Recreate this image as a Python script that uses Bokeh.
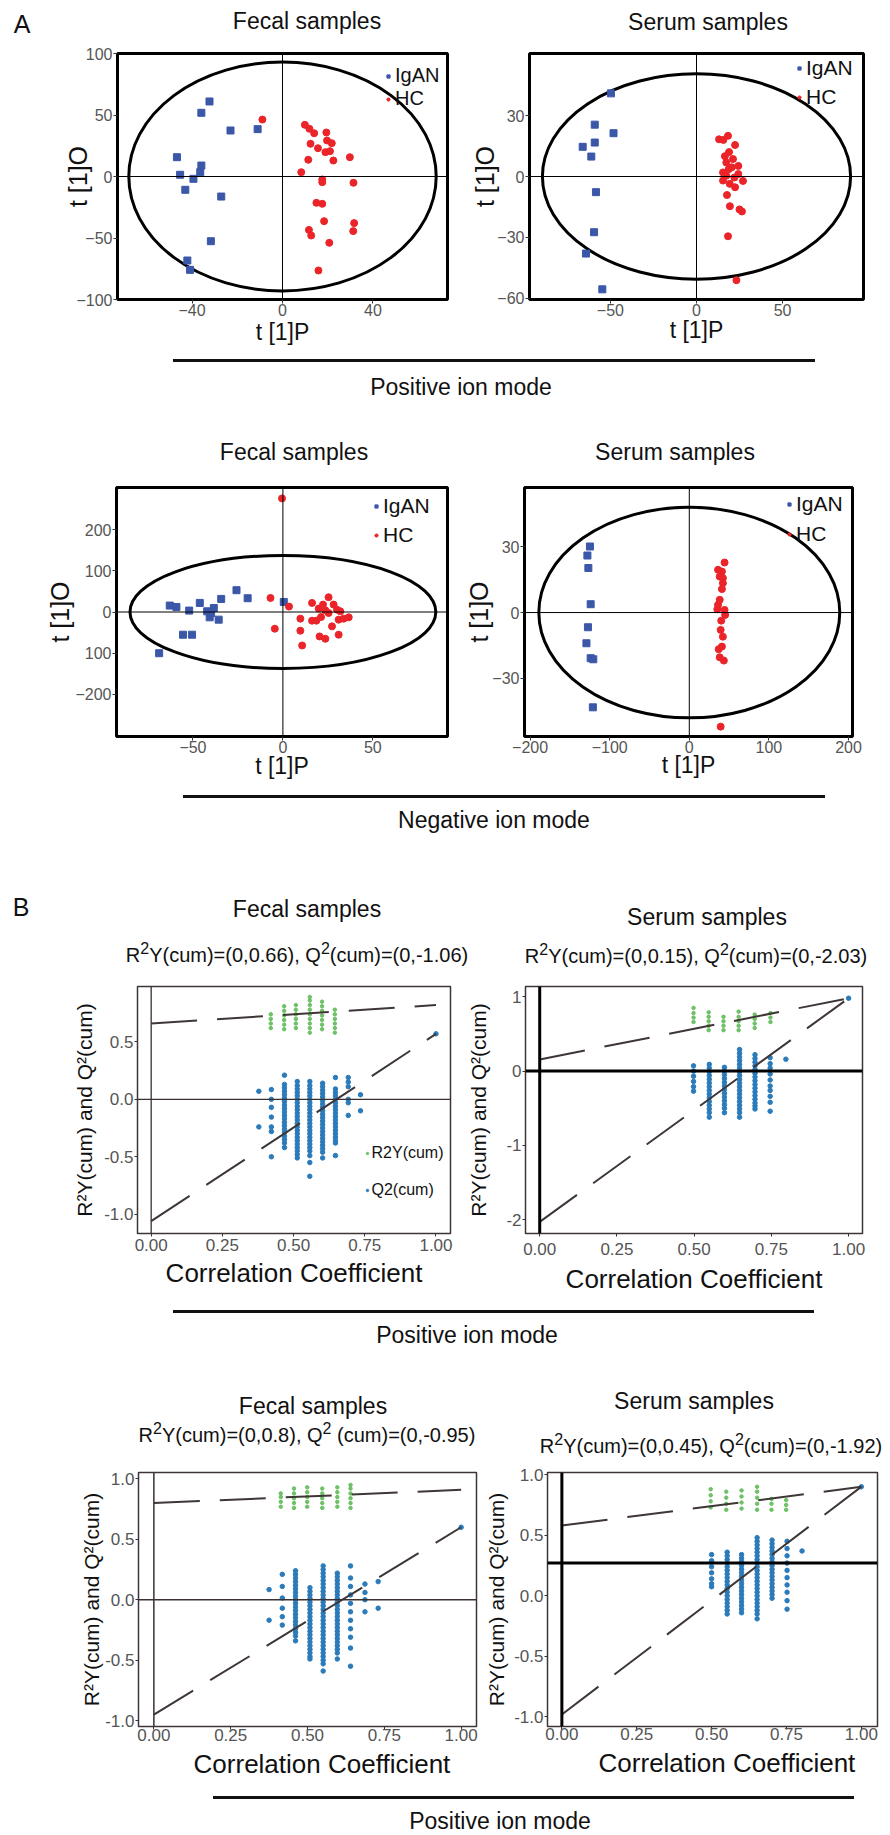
from bokeh.plotting import figure
from bokeh.models import Span, Legend, LegendItem, Div, FixedTicker, NumeralTickFormatter
from bokeh.layouts import column, row
from bokeh.embed import file_html
from bokeh.resources import INLINE

FONT = "Liberation Sans"
BLUE_SQ = "#3b57a8"
RED_PT = "#ea2429"
GREEN = "#62bb5a"
BLUE_PT = "#2b7bba"
LINE_C = "#3f3636"
TICK_TXT = "#555555"
PAGE_W = 888

# ---------------- A: OPLS-DA score plots ----------------
a_titles = ["Fecal samples", "Serum samples", "Fecal samples", "Serum samples"]
group_labels = ["IgAN", "HC"]
panel_letters = ["A", "B"]

a1_igan_x = [-32.3, -35.9, -23.0, -11.0, -46.7, -35.9, -36.4, -45.3, -39.4, -43.0, -27.1, -31.7, -42.1, -40.9]
a1_igan_y = [61.0, 51.8, 37.4, 38.5, 15.7, 8.9, 3.5, 1.4, -1.9, -10.8, -16.3, -52.6, -68.3, -75.9]
a1_hc_x = [-8.9, 9.9, 11.9, 14.0, 19.4, 19.7, 21.8, 12.4, 15.7, 19.0, 21.0, 11.4, 22.5, 29.8, 8.3,
           17.6, 17.6, 31.4, 15.0, 17.6, 18.4, 31.7, 31.3, 11.7, 12.7, 20.7, 15.9]
a1_hc_y = [46.3, 42.0, 38.8, 35.2, 35.8, 29.3, 27.1, 26.6, 23.0, 19.8, 20.6, 13.6, 13.0, 15.7, 3.5,
           -2.4, -4.6, -5.1, -21.4, -22.2, -36.3, -37.9, -44.4, -43.4, -48.0, -53.9, -76.4]

a2_igan_x = [-49.7, -59.1, -48.2, -59.1, -66.1, -61.1, -58.4, -59.5, -64.2, -54.7]
a2_igan_y = [40.9, 25.5, 21.3, 16.7, 14.6, 9.8, -7.7, -27.4, -37.9, -55.5]
a2_hc_x = [13.1, 18.3, 15.6, 22.4, 18.9, 21.2, 17.3, 24.3, 18.7, 15.4, 17.3, 24.3, 27.0, 15.4, 19.3,
           22.4, 17.7, 19.4, 26.4, 25.0, 18.3, 23.2, 20.5, 22.0, 16.5]
a2_hc_y = [18.3, 20.0, 18.0, 15.5, 12.0, 8.6, 6.9, 5.2, 3.6, 2.0, 0.4, 1.2, -2.2, -2.0, -3.6,
           -5.3, -9.1, -14.6, -17.2, -16.2, -29.4, -51.0, 4.5, -0.5, 10.0]

a3_igan_x = [-62.9, -59.2, -52.1, -46.2, -42.1, -40.7, -38.4, -35.7, -34.3, -25.8, -19.6, -55.5, -50.5, -68.8, 0.5, -39.9]
a3_igan_y = [15.6, 12.2, 3.4, 22.0, 1.7, -12.9, 9.8, -18.6, 31.7, 52.9, 33.4, -55.1, -55.1, -100.0, 24.4, -2.4]
a3_hc_x = [-0.5, -6.9, 3.4, -4.5, 9.7, 9.7, 10.7, 16.2, 16.2, 18.6, 19.9, 22.3, 23.6, 21.2, 25.4,
           28.2, 30.1, 31.9, 31.0, 33.8, 36.6, 27.3, 31.0, 20.4, 23.6, 25.4]
a3_hc_y = [275.6, 34.1, 13.2, -40.5, -16.1, -45.4, -81.2, 22.0, -21.0, -21.0, 8.3, 18.0, 4.1, -12.2, 35.8,
           18.0, 5.7, 1.7, -18.6, -16.1, -12.9, -34.8, -55.1, -59.3, -65.0, -2.4]

a4_igan_x = [-124.8, -128.0, -126.8, -123.9, -127.3, -129.2, -123.9, -120.6, -121.1]
a4_igan_y = [30.1, 26.0, 20.3, 3.8, -6.7, -14.0, -20.8, -21.3, -43.2]
a4_hc_x = [44.3, 41.0, 38.2, 42.2, 41.0, 38.2, 35.2, 44.3, 45.0, 40.1, 39.4, 42.2, 41.0, 36.9, 38.2,
           43.4, 39.4, 36.1, 42.2, 36.1]
a4_hc_y = [22.8, 18.7, 16.4, 15.7, 10.7, 5.8, 1.5, 1.2, -1.1, -3.7, -7.9, -11.0, -15.5, -16.7, -20.4,
           -21.9, -52.0, 3.5, 13.4, 19.5]

# Hotelling ellipse semi-axes (x, y) per panel
ell_a = [68, 89.5, 85, 189]
ell_b = [93, 50.5, 137, 48]

a1_xticks = [-40, 0, 40]
a1_yticks = [-100, -50, 0, 50, 100]
a2_xticks = [-50, 0, 50]
a2_yticks = [-60, -30, 0, 30]
a3_xticks = [-50, 0, 50]
a3_yticks = [-200, -100, 0, 100, 200]
a4_xticks = [-200, -100, 0, 100, 200]
a4_yticks = [-30, 0, 30]

# ---------------- B: permutation tests ----------------
b_titles = ["Fecal samples", "Serum samples", "Fecal samples", "Serum samples"]
b_r2y = ["0,0.66", "0,0.15", "0,0.8", "0,0.45"]
b_q2 = ["0,-1.06", "0,-2.03", "0,-0.95", "0,-1.92"]
series_labels = ["R2Y(cum)", "Q2(cum)"]
mode_labels = ["Positive ion mode", "Negative ion mode", "Positive ion mode", "Positive ion mode"]

b_xticks = [0, 0.25, 0.5, 0.75, 1.0]
b1_yticks = [-1.0, -0.5, 0.0, 0.5]
b2_yticks = [-2, -1, 0, 1]
b3_yticks = [-1.0, -0.5, 0.0, 0.5, 1.0]
b4_yticks = [-1.0, -0.5, 0.0, 0.5, 1.0]

# regression lines: intercept at x=0, observed value at x=1
b1_r2_line = [0.66, 0.82]
b1_q2_line = [-1.06, 0.57]
b2_r2_line = [0.157, 0.98]
b2_q2_line = [-2.03, 0.98]
b3_r2_line = [0.80, 0.91]
b3_q2_line = [-0.95, 0.60]
b4_r2_line = [0.58, 0.90]
b4_q2_line = [-0.98, 0.90]
b4_hline = 0.27

b1_r2_cols = [0.42, 0.467, 0.508, 0.557, 0.60, 0.645]
b1_r2_vals = [[0.62, 0.66, 0.70, 0.74],
              [0.61, 0.65, 0.69, 0.73, 0.77, 0.81],
              [0.62, 0.66, 0.70, 0.74, 0.78, 0.82],
              [0.58, 0.62, 0.66, 0.70, 0.74, 0.78, 0.82, 0.86, 0.89],
              [0.61, 0.65, 0.69, 0.73, 0.77, 0.81, 0.85],
              [0.58, 0.62, 0.66, 0.70, 0.74, 0.78]]
b1_q2_cols = [0.378, 0.422, 0.468, 0.513, 0.557, 0.602, 0.647, 0.692, 0.735, 1.0]
b1_q2_vals = [[0.07, -0.24],
              [0.085, 0.0, -0.07, -0.155, -0.24, -0.28, -0.50],
              [0.21, 0.13, 0.10, 0.07, 0.04, 0.01, -0.02, -0.05, -0.08, -0.11, -0.14, -0.17, -0.20, -0.23,
               -0.26, -0.29, -0.32, -0.35, -0.38, -0.42],
              [0.155, 0.12, 0.09, 0.06, 0.03, 0.0, -0.03, -0.06, -0.09, -0.12, -0.15, -0.18, -0.21, -0.24,
               -0.27, -0.30, -0.33, -0.36, -0.39, -0.42, -0.45, -0.48, -0.51],
              [0.155, 0.12, 0.09, 0.06, 0.03, 0.0, -0.03, -0.06, -0.09, -0.12, -0.15, -0.18, -0.21, -0.24,
               -0.27, -0.30, -0.33, -0.36, -0.39, -0.42, -0.45, -0.49, -0.55, -0.67],
              [0.14, 0.11, 0.08, 0.05, 0.02, -0.01, -0.04, -0.07, -0.10, -0.13, -0.16, -0.19, -0.22, -0.25,
               -0.28, -0.31, -0.34, -0.37, -0.40, -0.43, -0.46, -0.51],
              [0.19, 0.09, 0.06, 0.03, 0.0, -0.03, -0.06, -0.09, -0.12, -0.15, -0.18, -0.21, -0.24, -0.27,
               -0.30, -0.33, -0.36, -0.38, -0.49],
              [0.19, 0.15, 0.11, 0.0, -0.03, -0.14],
              [0.04, -0.10],
              [0.57]]

b2_r2_cols = [0.498, 0.547, 0.595, 0.644, 0.696, 0.747]
b2_r2_vals = [[0.66, 0.72, 0.78, 0.85],
              [0.55, 0.61, 0.67, 0.73, 0.79],
              [0.55, 0.61, 0.67, 0.73],
              [0.55, 0.61, 0.67, 0.73, 0.80],
              [0.58, 0.64, 0.70, 0.76],
              [0.66, 0.72, 0.78]]
b2_q2_cols = [0.498, 0.549, 0.598, 0.647, 0.697, 0.746, 0.797, 1.0]
b2_q2_vals = [[0.07, 0.0, -0.07, -0.14, -0.21, -0.27],
              [0.09, 0.04, -0.01, -0.06, -0.11, -0.16, -0.21, -0.26, -0.31, -0.36, -0.41, -0.46, -0.51, -0.56, -0.62],
              [0.05, 0.0, -0.05, -0.10, -0.15, -0.20, -0.25, -0.30, -0.35, -0.40, -0.45, -0.50, -0.56],
              [0.29, 0.24, 0.19, 0.14, 0.09, 0.04, -0.01, -0.06, -0.11, -0.16, -0.21, -0.26, -0.31, -0.36,
               -0.41, -0.46, -0.51, -0.56, -0.62],
              [0.22, 0.17, 0.12, 0.07, 0.02, -0.03, -0.08, -0.13, -0.18, -0.23, -0.28, -0.33, -0.38, -0.43,
               -0.47, -0.51],
              [0.18, 0.10, 0.04, -0.04, -0.12, -0.20, -0.26, -0.34, -0.42, -0.54],
              [0.16],
              [0.98]]

b3_r2_cols = [0.413, 0.456, 0.499, 0.548, 0.597, 0.64]
b3_r2_vals = [[0.77, 0.81, 0.85, 0.88],
              [0.76, 0.80, 0.84, 0.88, 0.92],
              [0.77, 0.81, 0.85, 0.89, 0.93],
              [0.76, 0.80, 0.84, 0.88, 0.92],
              [0.77, 0.81, 0.85, 0.89, 0.93],
              [0.76, 0.80, 0.84, 0.88, 0.92, 0.95]]
b3_q2_cols = [0.375, 0.418, 0.461, 0.508, 0.551, 0.597, 0.64, 0.687, 0.73, 1.0]
b3_q2_vals = [[0.084, -0.169],
              [0.21, 0.11, 0.014, -0.07, -0.14, -0.21],
              [0.24, 0.21, 0.18, 0.15, 0.12, 0.09, 0.06, 0.03, 0.0, -0.03, -0.06, -0.09, -0.12, -0.15,
               -0.18, -0.21, -0.24, -0.27, -0.30, -0.34],
              [0.10, 0.07, 0.04, 0.01, -0.02, -0.05, -0.08, -0.11, -0.14, -0.17, -0.20, -0.23, -0.26,
               -0.29, -0.32, -0.35, -0.38, -0.41, -0.44, -0.47, -0.49],
              [0.28, 0.25, 0.22, 0.19, 0.16, 0.13, 0.10, 0.07, 0.04, 0.01, -0.02, -0.05, -0.08, -0.11,
               -0.14, -0.17, -0.20, -0.23, -0.26, -0.29, -0.32, -0.35, -0.38, -0.41, -0.44, -0.47,
               -0.50, -0.53, -0.59],
              [0.22, 0.19, 0.16, 0.13, 0.10, 0.07, 0.04, 0.01, -0.02, -0.05, -0.08, -0.11, -0.14, -0.17,
               -0.20, -0.23, -0.26, -0.29, -0.32, -0.35, -0.38, -0.41, -0.44, -0.49],
              [0.28, 0.18, 0.11, 0.04, -0.03, -0.10, -0.17, -0.24, -0.31, -0.40, -0.55],
              [0.13, 0.06, 0.0, -0.10],
              [0.15, -0.07],
              [0.60]]

b4_r2_cols = [0.497, 0.549, 0.60, 0.652, 0.70, 0.749]
b4_r2_vals = [[0.73, 0.78, 0.83, 0.88],
              [0.71, 0.76, 0.81, 0.86],
              [0.72, 0.77, 0.82, 0.87],
              [0.71, 0.76, 0.81, 0.86, 0.90],
              [0.71, 0.76, 0.80],
              [0.71, 0.75, 0.79]]
b4_q2_cols = [0.5, 0.552, 0.6, 0.652, 0.702, 0.752, 0.802, 1.0]
b4_q2_vals = [[0.34, 0.29, 0.24, 0.19, 0.14, 0.10, 0.075],
              [0.36, 0.33, 0.30, 0.27, 0.24, 0.21, 0.18, 0.15, 0.12, 0.09, 0.06, 0.03, 0.0, -0.03, -0.06,
               -0.09, -0.12, -0.15],
              [0.34, 0.31, 0.28, 0.25, 0.22, 0.19, 0.16, 0.13, 0.10, 0.07, 0.04, 0.01, -0.02, -0.05,
               -0.08, -0.11, -0.14],
              [0.48, 0.45, 0.42, 0.39, 0.36, 0.33, 0.30, 0.27, 0.24, 0.21, 0.18, 0.15, 0.12, 0.09, 0.06,
               0.03, 0.0, -0.03, -0.06, -0.09, -0.12, -0.15, -0.19],
              [0.46, 0.43, 0.40, 0.37, 0.34, 0.31, 0.28, 0.25, 0.22, 0.19, 0.16, 0.13, 0.10, 0.07, 0.04,
               0.01, -0.02],
              [0.45, 0.39, 0.33, 0.27, 0.21, 0.15, 0.09, 0.03, -0.04, -0.11],
              [0.37],
              [0.90]]


def flat(cols, vals):
    xs, ys = [], []
    for c, vs in zip(cols, vals):
        for v in vs:
            xs.append(c)
            ys.append(v)
    return xs, ys


def sup_text(r2, q2, space=""):
    s = '<span style="font-size:0.8em;position:relative;top:-0.45em;">2</span>'
    return "R%sY(cum)=(%s), Q%s%s(cum)=(%s)" % (s, r2, s, space, q2)


# ---------------- helpers (geometry in reference-pixel coordinates) ----------------
def make_fig(box, frame, xr, yr):
    x0, x1, y0, y1 = box
    fl, fr, ft, fb = frame
    p = figure(width=x1 - x0, height=y1 - y0, x_range=xr, y_range=yr, title=None,
               output_backend="svg", toolbar_location=None,
               min_border_left=fl - x0, min_border_right=x1 - fr,
               min_border_top=ft - y0, min_border_bottom=y1 - fb)
    p.xgrid.visible = False
    p.ygrid.visible = False
    p.background_fill_color = "white"
    p.border_fill_color = "white"
    return p


def style_axes(p, xticks, yticks, xlabel, ylabel, tick_px, xlab_px, ylab_px,
               xls, yls, tick_out=4, x_std=3, y_std=1):
    for ax in (p.xaxis[0], p.yaxis[0]):
        ax.axis_line_color = None
        ax.major_tick_in = 0
        ax.major_tick_out = tick_out
        ax.major_tick_line_color = "#333333"
        ax.minor_tick_line_color = None
        ax.major_label_text_font = FONT
        ax.major_label_text_font_size = f"{tick_px}px"
        ax.major_label_text_color = TICK_TXT
        ax.axis_label_text_font = FONT
        ax.axis_label_text_font_style = "normal"
        ax.axis_label_text_color = "#111111"
    p.xaxis[0].ticker = FixedTicker(ticks=xticks)
    p.yaxis[0].ticker = FixedTicker(ticks=yticks)
    p.xaxis[0].axis_label = xlabel
    p.yaxis[0].axis_label = ylabel
    p.xaxis[0].axis_label_text_font_size = f"{xlab_px}px"
    p.yaxis[0].axis_label_text_font_size = f"{ylab_px}px"
    p.xaxis[0].axis_label_standoff = xls
    p.yaxis[0].axis_label_standoff = yls
    p.xaxis[0].major_label_standoff = x_std
    p.yaxis[0].major_label_standoff = y_std


def legend_row(p, frame, label, renderer, glyph_left, yc, font_px, glyph_w, standoff=3):
    fl, fr, ft, fb = frame
    h = font_px * 1.2
    leg = Legend(items=[LegendItem(label=label, renderers=[renderer])],
                 location=(glyph_left - fl, fb - (yc + h / 2)))
    leg.glyph_width = glyph_w
    leg.glyph_height = glyph_w
    leg.label_height = 1
    leg.label_standoff = standoff
    leg.padding = 0
    leg.margin = 0
    leg.spacing = 0
    leg.background_fill_alpha = 0
    leg.border_line_alpha = 0
    leg.label_text_font = FONT
    leg.label_text_font_size = f"{font_px}px"
    leg.label_text_color = "#111111"
    p.add_layout(leg)


def score_panel(box, frame, xr, yr, igan_x, igan_y, hc_x, hc_y, ea, eb, xticks, yticks,
                yls, xls, leg, yoverrides=None):
    p = make_fig(box, frame, xr, yr)
    p.outline_line_color = "black"
    p.outline_line_width = 3
    style_axes(p, xticks, yticks, "t [1]P", "t [1]O", 16, 23, 25, xls, yls, tick_out=4, x_std=0, y_std=1)
    if yoverrides:
        p.yaxis[0].major_label_overrides = yoverrides
    p.add_layout(Span(location=0, dimension="height", line_color="black", line_width=1))
    p.add_layout(Span(location=0, dimension="width", line_color="black", line_width=1))
    p.ellipse(x=[0], y=[0], width=[2 * ea], height=[2 * eb], fill_color=None,
              line_color="black", line_width=3)
    r_i = p.scatter(igan_x, igan_y, marker="square", size=7, color=BLUE_SQ)
    r_h = p.scatter(hc_x, hc_y, marker="circle", size=7, color=RED_PT)
    legend_row(p, frame, group_labels[0], r_i, leg[0], leg[1], leg[3], 8, standoff=3)
    legend_row(p, frame, group_labels[1], r_h, leg[0], leg[2], leg[3], 8, standoff=3)
    return p


def perm_panel(box, frame, xr, yr, r2_cols, r2_vals, q2_cols, q2_vals, r2_line, q2_line, yticks,
               yfmt, yls, xls, zero_w, zero_c, hline=0.0, x_std=2, xlabel="Correlation Coefficient"):
    p = make_fig(box, frame, xr, yr)
    p.outline_line_color = "#3d3535"
    p.outline_line_width = 1.5
    style_axes(p, b_xticks, yticks, xlabel, "R\u00b2Y(cum) and Q\u00b2(cum)",
               17, 26, 21, xls, yls, tick_out=3, x_std=x_std, y_std=1)
    p.xaxis[0].formatter = NumeralTickFormatter(format="0.00")
    p.yaxis[0].formatter = NumeralTickFormatter(format=yfmt)
    p.add_layout(Span(location=0, dimension="height", line_color=zero_c, line_width=zero_w))
    p.add_layout(Span(location=hline, dimension="width", line_color=zero_c, line_width=zero_w))
    gx, gy = flat(r2_cols, r2_vals)
    bx, by = flat(q2_cols, q2_vals)
    r_g = p.scatter(gx, gy, marker="circle", size=3.5, color=GREEN, alpha=0.9)
    r_b = p.scatter(bx, by, marker="circle", size=4.5, color=BLUE_PT)
    p.line([0, 1], r2_line, line_color=LINE_C, line_width=2, line_dash="46 20")
    p.line([0, 1], q2_line, line_color=LINE_C, line_width=2, line_dash="46 20")
    return p, r_g, r_b


def band(y0, y1, lines, texts):
    h = y1 - y0
    parts = ['<div style="position:relative;width:%dpx;height:%dpx;font-family:\'Liberation Sans\',Arial,sans-serif;color:#111111;">' % (PAGE_W, h)]
    for ly, lx0, lx1 in lines:
        parts.append('<div style="position:absolute;left:%dpx;top:%.1fpx;width:%dpx;height:3px;background:#111111;"></div>'
                     % (lx0, ly - y0 - 1.5, lx1 - lx0))
    for html, cx, cy, size in texts:
        lh = round(size * 1.25)
        half = min(300, cx, PAGE_W - cx)
        parts.append('<div style="position:absolute;left:%dpx;width:%dpx;top:%.1fpx;height:%dpx;line-height:%dpx;'
                     'text-align:center;font-size:%dpx;white-space:nowrap;">%s</div>'
                     % (cx - half, 2 * half, cy - y0 - lh / 2, lh, lh, size, html))
    parts.append("</div>")
    return Div(text="".join(parts), width=PAGE_W, height=h, margin=0, styles={"overflow": "visible"})


# ---------------- build panels ----------------
# box = (fig_x0, fig_x1, fig_y0, fig_y1) ; frame = (left, right, top, bottom), reference px
# legend = (glyph_left, row1_y, row2_y, font_px)
fA1 = (117, 447, 53, 299)
pA1 = score_panel((0, 465, 40, 350), fA1, (-73, 73), (-100, 100), a1_igan_x, a1_igan_y, a1_hc_x, a1_hc_y,
                  ell_a[0], ell_b[0], a1_xticks, a1_yticks, -19, 0, (384, 75, 98, 20))
fA2 = (529, 863, 53, 300)
pA2 = score_panel((465, PAGE_W, 40, 350), fA2, (-97, 97), (-60.5, 60.5), a2_igan_x, a2_igan_y, a2_hc_x, a2_hc_y,
                  ell_a[1], ell_b[1], a2_xticks, a2_yticks, -5, -2, (795, 68, 97, 21))
fA3 = (116, 447, 487, 736)
pA3 = score_panel((0, 462, 470, 790), fA3, (-92.5, 91.5), (-302, 302), a3_igan_x, a3_igan_y, a3_hc_x, a3_hc_y,
                  ell_a[2], ell_b[2], a3_xticks, a3_yticks, -2, -3, (372, 505, 534, 21),
                  yoverrides={-100: "100"})
fA4 = (518, 852, 487, 736)
pA4 = score_panel((462, PAGE_W, 470, 790), fA4, (-207, 205), (-56.5, 57), a4_igan_x, a4_igan_y, a4_hc_x, a4_hc_y,
                  ell_a[3], ell_b[3], a4_xticks, a4_yticks, -4, -4, (779, 503, 533, 21))

fB1 = (137, 450, 986, 1239)
pB1, g1, q1 = perm_panel((0, 462, 970, 1300), fB1, (-0.048, 1.051), (-1.168, 0.982),
                         b1_r2_cols, b1_r2_vals, b1_q2_cols, b1_q2_vals, b1_r2_line, b1_q2_line,
                         b1_yticks, "0.0", 5, 4, 1.3, "#3a3030", x_std=2)
legend_row(pB1, fB1, series_labels[0], g1, 363.5, 1158, 16, 6, standoff=2)
legend_row(pB1, fB1, series_labels[1], q1, 363.5, 1195, 16, 6, standoff=2)

fB2 = (525, 862, 985, 1233)
pB2, g2, q2 = perm_panel((462, PAGE_W, 970, 1300), fB2, (-0.046, 1.045), (-2.186, 1.138),
                         b2_r2_cols, b2_r2_vals, b2_q2_cols, b2_q2_vals, b2_r2_line, b2_q2_line,
                         b2_yticks, "0", 13, 6, 3, "black", x_std=6)

fB3 = (138, 476, 1471, 1726)
pB3, g3, q3 = perm_panel((0, 480, 1460, 1786), fB3, (-0.05, 1.05), (-1.049, 1.053),
                         b3_r2_cols, b3_r2_vals, b3_q2_cols, b3_q2_vals, b3_r2_line, b3_q2_line,
                         b3_yticks, "0.0", -1, 5, 1.5, "#3a3030", x_std=-1,
                         xlabel="\u2007\u2007Correlation Coefficient")

fB4 = (547, 877, 1472, 1727)
pB4, g4, q4 = perm_panel((480, PAGE_W, 1460, 1786), fB4, (-0.048, 1.054), (-1.079, 1.018),
                         b4_r2_cols, b4_r2_vals, b4_q2_cols, b4_q2_vals, b4_r2_line, b4_q2_line,
                         b4_yticks, "0.0", 3, 5, 3, "black", hline=b4_hline, x_std=-2,
                         xlabel="\u2007\u2007Correlation Coefficient")

# ---------------- text / separator bands ----------------
t0 = band(0, 40, [], [(panel_letters[0], 22, 24, 25),
                      (a_titles[0], 307, 21, 23),
                      (a_titles[1], 708, 22, 23)])
d1 = band(350, 470, [(360, 173, 815)], [(mode_labels[0], 461, 387, 23),
                                        (a_titles[2], 294, 452, 23),
                                        (a_titles[3], 675, 452, 23)])
d2 = band(790, 970, [(796, 183, 825)], [(mode_labels[1], 494, 820, 23),
                                        (panel_letters[1], 21, 907, 25),
                                        (b_titles[0], 307, 909, 23),
                                        (b_titles[1], 707, 917, 23),
                                        (sup_text(b_r2y[0], b_q2[0]), 297, 955, 20),
                                        (sup_text(b_r2y[1], b_q2[1]), 696, 956, 20)])
d3 = band(1300, 1460, [(1311, 173, 814)], [(mode_labels[2], 467, 1335, 23),
                                           (b_titles[2], 313, 1406, 23),
                                           (b_titles[3], 694, 1401, 23),
                                           (sup_text(b_r2y[2], b_q2[2], " "), 307, 1435, 20),
                                           (sup_text(b_r2y[3], b_q2[3]), 711, 1446, 20)])
d4 = band(1786, 1833, [(1797, 213, 854)], [(mode_labels[3], 500, 1821, 23)])

layout = column(t0, row(pA1, pA2, spacing=0), d1,
                row(pA3, pA4, spacing=0), d2,
                row(pB1, pB2, spacing=0), d3,
                row(pB3, pB4, spacing=0), d4, spacing=0)

open("out.html", "w").write(file_html(layout, INLINE, title="OPLS-DA"))
